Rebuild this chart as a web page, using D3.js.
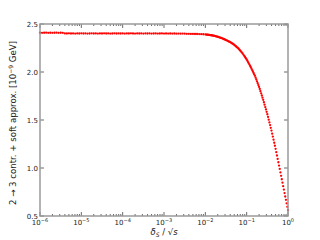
<!DOCTYPE html>
<html><head><meta charset="utf-8">
<script src="https://cdn.jsdelivr.net/npm/d3@7"></script>
<style>body{margin:0;background:#fff} svg{display:block} text{font-family:"DejaVu Sans",sans-serif;fill:#222}</style>
</head><body><svg id="c" width="320" height="240"></svg>
<script>
// x tick decades (exponents of 10) and y ticks
const xDecades = [-6, -5, -4, -3, -2, -1, 0];
const yTicks = [0.5, 1.0, 1.5, 2.0, 2.5];
const yTickLabels = ["0.5", "1.0", "1.5", "2.0", "2.5"];

// sample points: log10(deltaS/sqrt(s)) and value [1e-9 GeV]
const logDelta = [
  -6.00,-5.95,-5.90,-5.85,-5.80,-5.75,-5.70,-5.65,-5.60,-5.55,
  -5.50,-5.45,
  -5.40,-5.35,-5.30,-5.25,-5.20,-5.15,-5.10,-5.05,-5.00,-4.95,
  -4.90,-4.85,-4.80,-4.75,-4.70,-4.65,-4.60,-4.55,-4.50,-4.45,
  -4.40,-4.35,-4.30,-4.25,-4.20,-4.15,-4.10,-4.05,-4.00,-3.95,
  -3.90,-3.85,-3.80,-3.75,-3.70,-3.65,-3.60,-3.55,-3.50,-3.45,
  -3.40,-3.35,-3.30,-3.25,-3.20,-3.15,-3.10,-3.05,-3.00,-2.95,
  -2.90,-2.85,-2.80,-2.75,-2.70,-2.65,-2.60,-2.55,-2.50,-2.45,
  -2.40,-2.35,-2.30,-2.25,-2.20,-2.15,-2.10,-2.05,
  -2.00,-1.98,-1.96,-1.94,-1.92,-1.90,-1.88,-1.86,-1.84,-1.82,
  -1.80,-1.78,-1.76,-1.74,-1.72,-1.70,-1.68,-1.66,-1.64,-1.62,
  -1.60,-1.58,-1.56,-1.54,-1.52,-1.50,-1.48,-1.46,-1.44,-1.42,
  -1.40,-1.38,-1.36,-1.34,-1.32,-1.30,-1.28,-1.26,-1.24,-1.22,
  -1.20,-1.18,-1.16,-1.14,-1.12,-1.10,-1.08,-1.06,-1.04,-1.02,
  -1.000,-0.983,-0.967,-0.950,-0.933,-0.917,-0.900,-0.883,-0.867,-0.850,
  -0.833,-0.817,-0.800,-0.783,-0.767,-0.750,-0.733,-0.717,-0.700,-0.683,
  -0.667,-0.650,-0.633,-0.617,-0.600,-0.583,-0.567,-0.550,-0.533,-0.517,
  -0.500,-0.483,-0.467,-0.450,-0.433,-0.417,-0.400,-0.383,-0.367,-0.350,
  -0.333,-0.317,-0.300,-0.283,-0.267,-0.250,-0.233,-0.217,-0.200,-0.183,
  -0.167,-0.150,-0.133,-0.117,-0.100,-0.083,-0.067,-0.050,-0.033,-0.017,
  0.000
];
const value = [
  2.409,2.408,2.409,2.410,2.408,2.409,2.408,2.409,2.410,2.408,
  2.409,2.408,
  2.402,2.401,2.403,2.401,2.402,2.400,2.402,2.401,2.403,2.401,
  2.402,2.400,2.401,2.403,2.401,2.402,2.400,2.402,2.401,2.403,
  2.401,2.402,2.400,2.401,2.403,2.401,2.402,2.401,2.402,2.400,
  2.402,2.401,2.403,2.401,2.400,2.402,2.401,2.402,2.400,2.402,
  2.401,2.402,2.400,2.401,2.402,2.400,2.401,2.402,2.400,2.401,
  2.400,2.401,2.400,2.401,2.399,2.400,2.399,2.400,2.399,2.398,
  2.398,2.397,2.397,2.396,2.396,2.395,2.394,2.393,
  2.391,2.390,2.389,2.388,2.387,2.386,2.384,2.383,2.381,2.380,
  2.378,2.376,2.374,2.371,2.369,2.367,2.364,2.361,2.358,2.355,
  2.352,2.348,2.344,2.341,2.337,2.333,2.329,2.325,2.320,2.316,
  2.312,2.306,2.300,2.295,2.289,2.283,2.275,2.268,2.260,2.253,
  2.245,2.235,2.225,2.215,2.205,2.195,2.182,2.169,2.156,2.143,
  2.130,2.117,2.103,2.090,2.077,2.063,2.050,2.035,2.020,2.005,
  1.990,1.975,1.960,1.941,1.922,1.903,1.883,1.864,1.845,1.823,
  1.800,1.778,1.755,1.733,1.710,1.685,1.660,1.635,1.610,1.585,
  1.560,1.532,1.503,1.475,1.447,1.418,1.390,1.358,1.327,1.295,
  1.263,1.232,1.200,1.165,1.130,1.095,1.060,1.025,0.990,0.954,
  0.918,0.883,0.847,0.811,0.775,0.739,0.703,0.668,0.632,0.596,
  0.560
];

const W = 320, H = 240;
const m = {l: 40, r: 32, t: 24, b: 24};
const svg = d3.select("#c");
const x = d3.scaleLog().domain([1e-6, 1]).range([m.l, W - m.r]);
const y = d3.scaleLinear().domain([0.5, 2.5]).range([H - m.b, m.t]);

const pts = logDelta.map((e, i) => ({x: Math.pow(10, e), y: value[i]}));

// points
svg.append("g").selectAll("circle").data(pts).join("circle")
  .attr("cx", d => x(d.x)).attr("cy", d => y(d.y)).attr("r", 1.15)
  .attr("fill", "#ff0000");

// minor ticks
const minor = [];
xDecades.slice(0, -1).forEach(d => { for (let k = 2; k <= 9; k++) minor.push(k * Math.pow(10, d)); });
const majorX = xDecades.map(d => Math.pow(10, d));
const tickCol = "#444";

function xAxisTicks(sel, y0, dir) {
  sel.selectAll(".mj").data(majorX).join("line").attr("class", "mj")
    .attr("x1", d => x(d)).attr("x2", d => x(d)).attr("y1", y0).attr("y2", y0 + dir * 4)
    .attr("stroke", tickCol).attr("stroke-width", 0.8);
  sel.selectAll(".mn").data(minor).join("line").attr("class", "mn")
    .attr("x1", d => x(d)).attr("x2", d => x(d)).attr("y1", y0).attr("y2", y0 + dir * 2)
    .attr("stroke", tickCol).attr("stroke-width", 0.8);
}
xAxisTicks(svg.append("g"), H - m.b, -1);
xAxisTicks(svg.append("g"), m.t, 1);

[[m.l, 1], [W - m.r, -1]].forEach(([x0, dir]) => {
  svg.append("g").selectAll("line").data(yTicks).join("line")
    .attr("x1", x0).attr("x2", x0 + dir * 4).attr("y1", d => y(d)).attr("y2", d => y(d))
    .attr("stroke", tickCol).attr("stroke-width", 0.8);
});

// frame
svg.append("rect").attr("x", m.l).attr("y", m.t).attr("width", W - m.l - m.r).attr("height", H - m.t - m.b)
  .attr("fill", "none").attr("stroke", "#9a9a9a").attr("stroke-width", 1.5);

// y tick labels
svg.append("g").selectAll("text").data(yTicks).join("text")
  .attr("x", m.l - 2).attr("y", d => y(d) + 2.5).attr("text-anchor", "end")
  .attr("font-size", 7).text((d, i) => yTickLabels[i]);

// x tick labels
const xl = svg.append("g").selectAll("text").data(xDecades).join("text")
  .attr("x", d => x(Math.pow(10, d))).attr("y", H - m.b + 9).attr("text-anchor", "middle")
  .attr("font-size", 7);
xl.append("tspan").text("10");
xl.append("tspan").attr("dy", -3).attr("font-size", 5).text(d => d === 0 ? "0" : "\u2212" + (-d));

// x label
const xt = svg.append("text").attr("x", (m.l + W - m.r) / 2).attr("y", 235).attr("text-anchor", "middle")
  .attr("font-size", 8.5);
xt.append("tspan").attr("font-style", "italic").text("\u03b4");
xt.append("tspan").attr("font-size", 6).attr("dy", 2).attr("font-style", "italic").text("S");
xt.append("tspan").attr("dy", -2).text(" / \u221a");
xt.append("tspan").attr("font-style", "italic").text("s");

// y label
const yt = svg.append("text").attr("transform", `translate(16,${(m.t + H - m.b) / 2 + 3}) rotate(-90)`)
  .attr("text-anchor", "middle").attr("font-size", 8.6);
yt.append("tspan").text("2 \u2192 3 contr. + soft approx. [10");
yt.append("tspan").attr("dy", -3.5).attr("font-size", 6).text("\u22129");
yt.append("tspan").attr("dy", 3.5).text(" GeV]");
</script></body></html>
